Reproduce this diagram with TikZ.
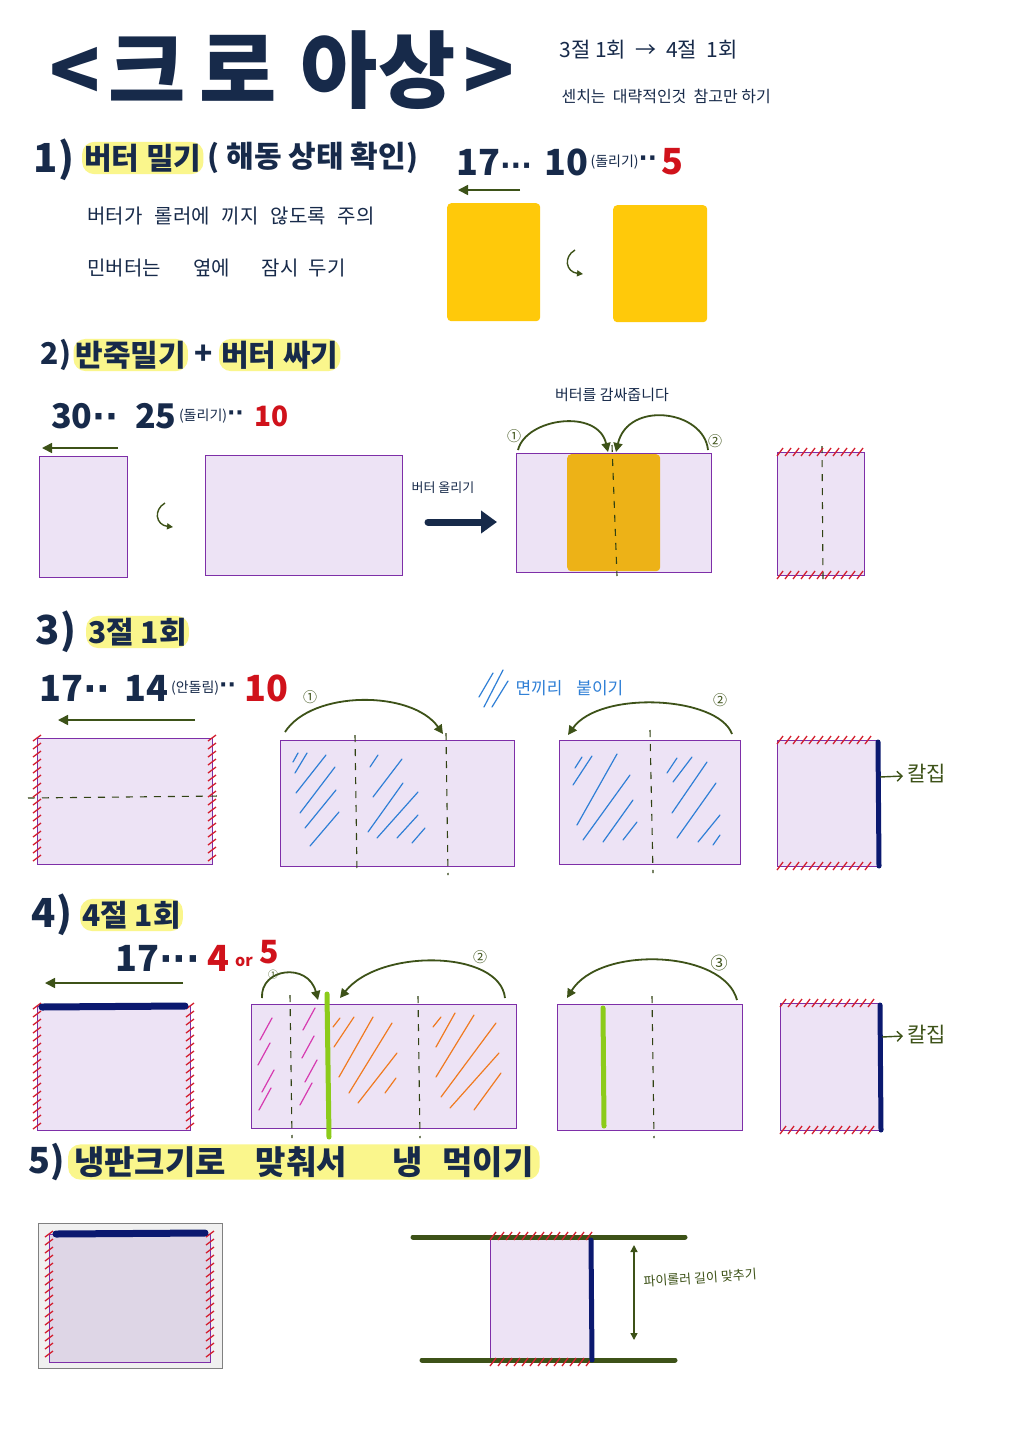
\documentclass[tikz,border=0pt]{standalone}
\usepackage{fontspec}
\setmainfont{Noto Sans CJK KR}
\newfontfamily\dotfont{DejaVu Sans}
\usetikzlibrary{arrows.meta,positioning}

\definecolor{ink}{HTML}{172A4A}
\definecolor{hlyellow}{HTML}{FAF68C}
\definecolor{redink}{HTML}{D0121B}
\definecolor{butterA}{HTML}{FFC90A}
\definecolor{butterB}{HTML}{EDB217}
\definecolor{doughfill}{HTML}{EDE3F5}
\definecolor{traydough}{HTML}{DED6E6}
\definecolor{doughline}{HTML}{7E2FA8}
\definecolor{leaf}{HTML}{3D5218}
\definecolor{hatchred}{HTML}{D41E2E}
\definecolor{skyink}{HTML}{2F7FD6}
\definecolor{pinkink}{HTML}{D63AB0}
\definecolor{orangeink}{HTML}{F07A20}
\definecolor{lime}{HTML}{8CCB1A}
\definecolor{navyedge}{HTML}{0B1970}

\tikzset{
  title/.style={text=ink, font=\bfseries\fontsize{84}{84}\selectfont},
  head/.style={text=ink, font=\bfseries\fontsize{30}{30}\selectfont, inner sep=2pt},
  hl/.style={fill=hlyellow, rounded corners=12pt},
  num/.style={text=ink, font=\bfseries\fontsize{36}{36}\selectfont, inner sep=1pt},
  paren/.style={text=ink, font=\fontsize{14}{14}\selectfont, inner sep=1pt},
  note/.style={text=ink, font=\fontsize{20}{20}\selectfont, anchor=west},
  small/.style={text=ink, font=\fontsize{15}{15}\selectfont},
  numtag/.style={text=leaf, font=\fontsize{14}{14}\selectfont},
  dough/.style={draw=doughline, fill=doughfill, line width=1.2pt, inner sep=0pt, anchor=north west},
  butter/.style={inner sep=0pt, rounded corners=4pt, anchor=north west},
  foldline/.style={draw=leaf!80!black, line width=1.1pt, dash pattern=on 7pt off 7pt},
  roll/.style={draw=leaf, line width=1.6pt, -{Triangle[length=10pt,width=10pt]}},
  fold/.style={draw=leaf, line width=1.8pt, -{Triangle[length=9pt,width=9pt]}},
  hatch/.style={draw=hatchred, line width=1.3pt},
  slash/.style={line width=1.2pt, line cap=round},
  edgeline/.style={draw=navyedge, line width=5pt, line cap=round},
  limeline/.style={draw=lime, line width=5pt, line cap=round},
}

\newcommand{\hatchrow}[3]{\foreach \i in {0,...,#3} \draw[hatch] ({#1+8*\i-3},{#2+4}) -- ++(6,-8);}
\newcommand{\hatchcol}[3]{\foreach \i in {0,...,#3} \draw[hatch] ({#1-4},{#2+8*\i+3}) -- ++(8,-6);}
\newcommand{\dd}[1]{{\dotfont\bfseries #1}}

\begin{document}
\begin{tikzpicture}[x=1pt,y=-1pt]
\useasboundingbox (0,0) rectangle (1018,1440);
\fill[white] (0,0) rectangle (1018,1440);

% title
\node[title] (ttl) at (282,70) {<\hspace{8pt}크\hspace{14pt}로\hspace{24pt}아상\hspace{8pt}>};
\node[text=ink, font=\fontsize{21}{21}\selectfont, anchor=west] (ttl2) at (556,50) {3절 1회\ \ →\ \ 4절\ \ 1회};
\node[small, font=\fontsize{16}{16}\selectfont, anchor=west] (ttl3) at (558,96) {센치는\ \ 대략적인것\ \ 참고만\ 하기};

% 1)
\node[head, font=\bfseries\fontsize{40}{40}\selectfont] (s1) at (54,160) {1)};
\node[head, hl, anchor=west] (s1a) at (82,158) {버터 밀기};
\node[head, right=2pt of s1a] (s1b) {( 해동 상태 확인)};
\node[num, anchor=west] (s1c) at (455,162) {17\dd{\fontsize{28}{28}\selectfont ···}};
\node[num, right=10pt of s1c] (s1d) {10};
\node[paren, right=0pt of s1d] (s1e) {(돌리기)\dd{\fontsize{24}{24}\selectfont ··}};
\node[num, text=redink, right=2pt of s1e] (s1f) {5};
\node[note] (n1) at (84,216) {버터가\hspace{12pt}롤러에\hspace{12pt}끼지\hspace{12pt}않도록\hspace{12pt}주의};
\node[note] (n2) at (84,268) {민버터는\hspace{32pt}옆에\hspace{32pt}잠시\hspace{10pt}두기};

\coordinate (r1s) at (520,190);
\coordinate (r1e) at (458,190);
\draw[roll] (r1s) -- (r1e);
\node[butter, fill=butterA, minimum width=93pt, minimum height=118pt] (b1) at (447,203) {};
\node[butter, fill=butterA, minimum width=94pt, minimum height=117pt] (b2) at (613,205) {};
\coordinate (t1s) at (575,250);
\coordinate (t1e) at (583,274);
\draw[draw=leaf, line width=1.4pt, -{Triangle[length=6pt,width=6pt]}] (t1s) .. controls (563,257) and (566,272) .. (t1e);

% 2)
\node[head] (s2) at (56,355) {2)};
\node[head, hl, right=0pt of s2] (s2a) {반죽밀기};
\node[head, right=4pt of s2a] (s2b) {+};
\node[head, hl, right=4pt of s2b] (s2c) {버터 싸기};
\node[num, font=\bfseries\fontsize{34}{34}\selectfont, anchor=west] (s2d) at (50,416) {30\dd{··}};
\node[num, font=\bfseries\fontsize{34}{34}\selectfont, anchor=west] (s2e) at (134,416) {25};
\node[paren, right=0pt of s2e] (s2f) {(돌리기)\dd{\fontsize{22}{22}\selectfont ··}};
\node[num, font=\bfseries\fontsize{28}{28}\selectfont, text=redink, right=8pt of s2f] (s2g) {10};

\coordinate (r2s) at (118,448);
\coordinate (r2e) at (42,448);
\draw[roll] (r2s) -- (r2e);
\node[dough, minimum width=88pt, minimum height=121pt] (d2a) at (39,456) {};
\node[dough, minimum width=197pt, minimum height=120pt] (d2b) at (205,455) {};
\coordinate (t2s) at (165,503);
\coordinate (t2e) at (173,527);
\draw[draw=leaf, line width=1.4pt, -{Triangle[length=6pt,width=6pt]}] (t2s) .. controls (153,510) and (156,525) .. (t2e);

\node[small, font=\fontsize{13}{13}\selectfont] (up) at (443,488) {버터 올리기};
\coordinate (bigs) at (428,522);
\coordinate (bige) at (497,522);
\draw[draw=ink, line width=7pt, line cap=round, -{Triangle[length=16pt,width=22pt]}] (bigs) -- (bige);

\node[dough, minimum width=195pt, minimum height=119pt] (d2c) at (516,453) {};
\node[butter, fill=butterB, minimum width=93pt, minimum height=117pt] (bb) at (567,454) {};
\coordinate (c2t) at (612,445);
\coordinate (c2b) at (617,576);
\draw[foldline] (c2t) -- (c2b);
\coordinate (a21s) at (518,450);
\coordinate (a21e) at (608,452);
\draw[fold] (a21s) .. controls (526,418) and (598,408) .. (a21e);
\coordinate (a22s) at (708,450);
\coordinate (a22e) at (616,452);
\draw[fold] (a22s) .. controls (704,410) and (628,400) .. (a22e);
\node[numtag] (m21) at (514,436) {①};
\node[numtag] (m22) at (715,441) {②};
\node[small] (wrap) at (612,395) {버터를 감싸줍니다};

\node[dough, minimum width=87pt, minimum height=123pt] (d2d) at (777,452) {};
\coordinate (c3t) at (822,446);
\coordinate (c3b) at (823,580);
\draw[foldline] (c3t) -- (c3b);
\hatchrow{780}{452}{10}
\hatchrow{780}{575}{10}

% 3)
\node[head, font=\bfseries\fontsize{40}{40}\selectfont] (s3) at (56,632) {3)};
\node[head, hl, anchor=west] (s3a) at (86,632) {3절 1회};
\node[num, anchor=west] (s3b) at (38,688) {17\dd{··}};
\node[num, right=12pt of s3b] (s3c) {14};
\node[paren, right=0pt of s3c] (s3d) {(안돌림)\dd{\fontsize{22}{22}\selectfont ··}};
\node[num, text=redink, right=6pt of s3d] (s3e) {10};

\draw[draw=skyink, slash] (479,697) -- (493,673) (484,707) -- (503,670) (492,707) -- (508,681);
\node[text=skyink, font=\fontsize{17}{17}\selectfont, anchor=west] (stick) at (512,688) {면끼리\hspace{14pt}붙이기};

\coordinate (r3s) at (195,720);
\coordinate (r3e) at (58,720);
\draw[roll] (r3s) -- (r3e);
\node[dough, minimum width=175pt, minimum height=126pt] (d3a) at (37,738) {};
\coordinate (h3l) at (28,798);
\coordinate (h3r) at (220,796);
\draw[foldline] (h3l) -- (h3r);
\hatchcol{37}{738}{15}
\hatchcol{212}{738}{15}

\node[dough, minimum width=234pt, minimum height=126pt] (d3b) at (280,740) {};
\draw[foldline] (355,735) -- (357,872);
\draw[foldline] (446,733) -- (448,875);
\foreach \a/\b/\c/\d in {293/762/298/753, 295/773/307/753, 296/793/326/755, 300/813/335/767, 305/828/336/790, 310/846/339/812,
  370/767/378/755, 373/797/402/759, 368/832/403/783, 377/838/418/792, 397/838/418/815, 412/843/425/828}
  \draw[draw=skyink, slash] (\a,\b) -- (\c,\d);
\coordinate (a31s) at (285,732);
\coordinate (a31e) at (443,734);
\draw[fold] (a31s) .. controls (312,690) and (412,690) .. (a31e);
\node[numtag] (m31) at (310,697) {①};

\node[dough, minimum width=181pt, minimum height=124pt] (d3c) at (559,740) {};
\draw[foldline] (650,730) -- (653,873);
\foreach \a/\b/\c/\d in {575/768/582/757, 573/785/592/756, 577/825/617/754, 583/840/630/775, 603/842/633/800, 623/840/637/822,
  667/773/677/758, 673/782/692/757, 672/813/707/762, 677/838/716/783, 698/842/720/815, 713/845/720/835}
  \draw[draw=skyink, slash] (\a,\b) -- (\c,\d);
\coordinate (a32s) at (732,734);
\coordinate (a32e) at (568,735);
\draw[fold] (a32s) .. controls (718,696) and (600,690) .. (a32e);
\node[numtag] (m32) at (720,700) {②};

\node[dough, minimum width=101pt, minimum height=126pt] (d3d) at (777,740) {};
\hatchrow{780}{740}{11}
\hatchrow{780}{866}{11}
\coordinate (k3t) at (878,742);
\coordinate (k3b) at (879,866);
\draw[edgeline] (k3t) -- (k3b);
\coordinate (k3s) at (880,777);
\coordinate (k3e) at (903,776);
\draw[draw=leaf, line width=1.4pt, -{Straight Barb[length=5pt]}] (k3s) -- (k3e);
\node[text=leaf, font=\fontsize{21}{21}\selectfont, anchor=west] (cut3) at (904,773) {칼집};

% 4)
\node[head, font=\bfseries\fontsize{40}{40}\selectfont] (s4) at (52,915) {4)};
\node[head, hl, anchor=west] (s4a) at (80,915) {4절 1회};
\node[num, anchor=west] (s4b) at (114,958) {17\dd{···}};
\node[num, text=redink, right=5pt of s4b] (s4c) {4};
\node[text=redink, font=\bfseries\fontsize{16}{16}\selectfont, right=1pt of s4c, yshift=-4pt] (s4d) {or};
\node[num, font=\bfseries\fontsize{32}{32}\selectfont, text=redink, right=2pt of s4d, yshift=10pt] (s4e) {5};

\coordinate (r4s) at (183,983);
\coordinate (r4e) at (45,983);
\draw[roll] (r4s) -- (r4e);
\node[dough, minimum width=153pt, minimum height=124pt] (d4a) at (37,1006) {};
\hatchcol{37}{1006}{15}
\hatchcol{190}{1006}{15}
\coordinate (k4l) at (42,1007);
\coordinate (k4r) at (185,1006);
\draw[edgeline, line width=7pt] (k4l) -- (k4r);

\node[dough, minimum width=265pt, minimum height=124pt] (d4b) at (251,1004) {};
\foreach \a/\b in {260/1040, 258/1065, 262/1092, 259/1110, 303/1030, 302/1058, 305/1082, 300/1105}
  \draw[draw=pinkink, slash] (\a,\b) -- ++(12,-22);
\foreach \a/\b/\c/\d in {333/1027/340/1018, 334/1047/354/1017, 339/1077/373/1017, 349/1093/392/1023, 358/1103/397/1053, 385/1093/396/1078,
  433/1027/441/1017, 436/1047/455/1013, 436/1077/474/1015, 441/1097/496/1023, 450/1108/499/1053, 474/1110/501/1073}
  \draw[draw=orangeink, slash] (\a,\b) -- (\c,\d);
\draw[foldline] (290,995) -- (292,1138);
\draw[foldline] (418,996) -- (420,1138);
\coordinate (g4t) at (327,994);
\coordinate (g4b) at (329,1137);
\draw[limeline] (g4t) -- (g4b);
\coordinate (a41s) at (262,998);
\coordinate (a41e) at (318,1000);
\draw[fold] (a41s) .. controls (260,968) and (308,962) .. (a41e);
\node[numtag, font=\fontsize{10}{10}\selectfont] (m41) at (273,975) {①};
\coordinate (a42s) at (505,998);
\coordinate (a42e) at (340,998);
\draw[fold] (a42s) .. controls (500,950) and (380,948) .. (a42e);
\node[numtag] (m42) at (480,957) {②};

\node[dough, minimum width=185pt, minimum height=126pt] (d4c) at (557,1004) {};
\draw[foldline] (652,996) -- (654,1138);
\coordinate (g5t) at (603,1008);
\coordinate (g5b) at (604,1126);
\draw[limeline] (g5t) -- (g5b);
\coordinate (a43s) at (737,1000);
\coordinate (a43e) at (567,998);
\draw[fold] (a43s) .. controls (724,950) and (600,945) .. (a43e);
\node[numtag, font=\fontsize{17}{17}\selectfont] (m43) at (719,963) {③};

\node[dough, minimum width=100pt, minimum height=127pt] (d4d) at (780,1003) {};
\hatchrow{783}{1003}{11}
\hatchrow{783}{1130}{11}
\coordinate (k4t) at (880,1005);
\coordinate (k4b) at (881,1130);
\draw[edgeline] (k4t) -- (k4b);
\coordinate (k4s) at (882,1037);
\coordinate (k4e) at (903,1036);
\draw[draw=leaf, line width=1.4pt, -{Straight Barb[length=5pt]}] (k4s) -- (k4e);
\node[text=leaf, font=\fontsize{21}{21}\selectfont, anchor=west] (cut4) at (904,1034) {칼집};

% 5)
\node[head, font=\bfseries\fontsize{36}{36}\selectfont] (s5) at (47,1162) {5)};
\node[head, hl, anchor=west, font=\bfseries\fontsize{33}{33}\selectfont, inner xsep=6pt] (s5a) at (68,1162) {냉판크기로\hspace{30pt}맞춰서\hspace{45pt}냉\hspace{20pt}먹이기};

\node[draw=gray, fill=gray!12, line width=1.2pt, inner sep=0pt, anchor=north west, minimum width=184pt, minimum height=145pt] (tray) at (38,1223) {};
\node[dough, fill=traydough, minimum width=161pt, minimum height=128pt] (d5a) at (49,1234) {};
\hatchcol{49}{1234}{15}
\hatchcol{210}{1234}{15}
\coordinate (k5l) at (56,1234);
\coordinate (k5r) at (205,1233);
\draw[edgeline, line width=7pt] (k5l) -- (k5r);

\node[dough, minimum width=102pt, minimum height=122pt] (d5b) at (490,1238) {};
\coordinate (p1a) at (413,1237);
\coordinate (p1b) at (685,1237);
\coordinate (p2a) at (422,1360);
\coordinate (p2b) at (675,1360);
\draw[draw=leaf, line width=5pt, line cap=round] (p1a) -- (p1b);
\draw[draw=leaf, line width=5pt, line cap=round] (p2a) -- (p2b);
\hatchrow{493}{1236}{12}
\hatchrow{493}{1362}{12}
\coordinate (k6t) at (591,1240);
\coordinate (k6b) at (592,1360);
\draw[edgeline] (k6t) -- (k6b);
\coordinate (lenT) at (634,1245);
\coordinate (lenB) at (634,1340);
\draw[draw=leaf, line width=1.4pt, {Triangle[length=7pt,width=7pt]}-{Triangle[length=7pt,width=7pt]}] (lenT) -- (lenB);
\node[text=leaf, font=\fontsize{13}{13}\selectfont, anchor=west, rotate=4] (roller) at (640,1282) {파이롤러 길이 맞추기};
\end{tikzpicture}
\end{document}
